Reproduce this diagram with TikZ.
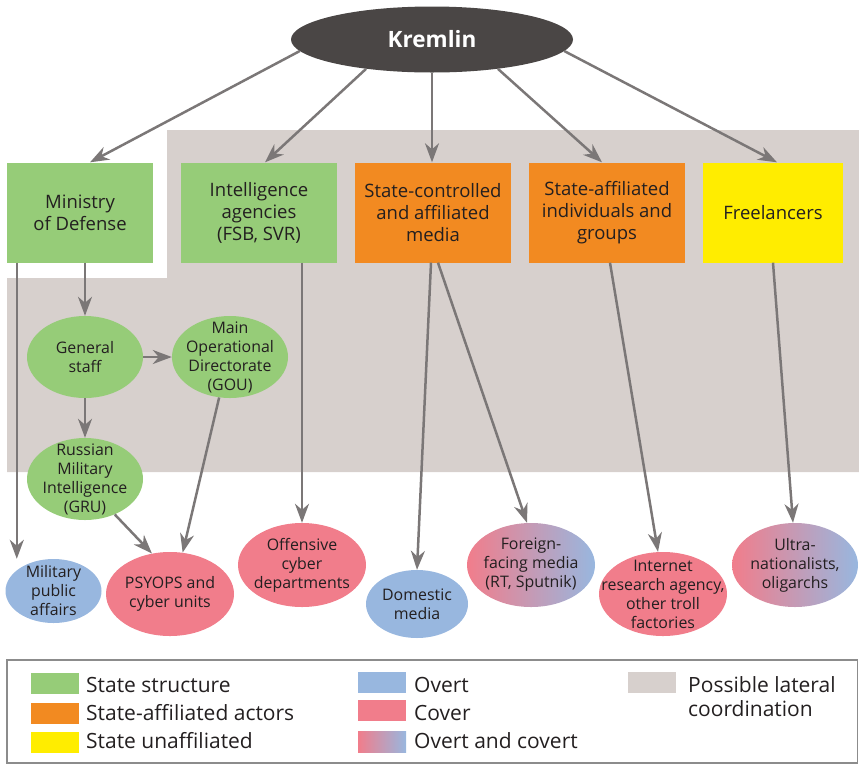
\documentclass[tikz,border=0pt]{standalone}
\usepackage{fontspec}
\setmainfont{Open Sans}
\usetikzlibrary{shapes.geometric,arrows.meta}
\definecolor{stategreen}{HTML}{96CC78}
\definecolor{affilorange}{HTML}{F28A21}
\definecolor{freeyellow}{HTML}{FFED00}
\definecolor{lateralgray}{HTML}{D7D0CD}
\definecolor{overtblue}{HTML}{98B7DF}
\definecolor{coverpink}{HTML}{F17D8B}
\definecolor{arrowgray}{HTML}{7B7777}
\definecolor{kremlingray}{HTML}{4A4645}
\definecolor{inkc}{HTML}{231F20}
\tikzset{
  actor/.style={rectangle, minimum height=100pt, inner sep=0pt, align=center,
    text=inkc, font=\fontsize{18.5}{22}\selectfont},
  unit/.style={ellipse, inner sep=0pt, minimum width=116pt, minimum height=82pt},
  unittext/.style={align=center, text=inkc, inner sep=0pt,
    font=\fontsize{15.9}{19}\selectfont},
  link/.style={draw=arrowgray, line width=2.5pt,
    -{Stealth[length=19pt,width=14pt,inset=6pt]}},
  swatch/.style={rectangle, minimum width=48pt, minimum height=21pt, inner sep=0pt},
  legtext/.style={anchor=base west, inner sep=0pt, text=inkc, align=left,
    font=\fontsize{21}{24}\selectfont}
}
\begin{document}
\begin{tikzpicture}[x=1pt,y=-1pt]
\useasboundingbox (0,0) rectangle (859,764);
%%%%%%%%%%%%%%%% lateral coordination area
\fill[lateralgray] (167,130) -- (859,130) -- (859,472) -- (7,472) -- (7,278) -- (167,278) -- cycle;
%%%%%%%%%%%%%%%%
\node[ellipse, fill=kremlingray, minimum width=282pt, minimum height=66pt, inner sep=0pt,
  text=white, font=\fontsize{22.5}{26}\selectfont\bfseries] (kremlin) at (432,39.5) {Kremlin};
%%%%%%%%%%%%%%%%
\node[actor, fill=stategreen, minimum width=146pt] (mod) at (80,212.5) {Ministry\\of Defense};
\node[actor, fill=stategreen, minimum width=156pt] (intel) at (259,212.5) {Intelligence\\agencies\\(FSB, SVR)};
\node[actor, fill=affilorange, minimum width=156pt] (media) at (433,212.5) {State-controlled\\and affiliated\\media};
\node[actor, fill=affilorange, minimum width=156pt] (groups) at (607,212.5) {State-affiliated\\individuals and\\groups};
\node[actor, fill=freeyellow, minimum width=140pt] (free) at (773,212.5) {Freelancers};
%%%%%%%%%%%%%%%%
\node[unit, fill=stategreen, label={[unittext]center:General\\staff}] (gs) at (85,357) {};
\node[unit, fill=stategreen, label={[unittext]center:Main\\Operational\\Directorate\\(GOU)}] (gou) at (230,357) {};
\node[unit, fill=stategreen, label={[unittext]center:Russian\\Military\\Intelligence\\(GRU)}] (gru) at (85,479) {};
%%%%%%%%%%%%%%%%
\node[unit, fill=overtblue, minimum width=96pt, minimum height=64pt,
  label={[unittext]center:Military\\public\\affairs}] (mpa) at (53.5,591) {};
\node[unit, fill=coverpink, minimum width=128pt, minimum height=84pt,
  label={[unittext]center:PSYOPS and\\cyber units}] (psyops) at (170,594) {};
\node[unit, fill=coverpink, minimum width=128pt, minimum height=84pt,
  label={[unittext]center:Offensive\\cyber\\departments}] (cyber) at (302,565) {};
\node[unit, fill=overtblue, minimum width=102pt, minimum height=68pt,
  label={[unittext]center:Domestic\\media}] (domestic) at (417,604) {};
\node[unit, left color=coverpink, right color=overtblue, minimum width=128pt, minimum height=84pt,
  label={[unittext]center:{Foreign-\\facing media\\(RT, Sputnik)}}] (foreign) at (531,565) {};
\node[unit, fill=coverpink, minimum width=128pt, minimum height=84pt,
  label={[unittext]center:{Internet\\research agency,\\other troll\\factories}}] (troll) at (663,594) {};
\node[unit, left color=coverpink, right color=overtblue, minimum width=126pt, minimum height=84pt,
  label={[unittext]center:{Ultra-\\nationalists,\\oligarchs}}] (ultra) at (795,565) {};
%%%%%%%%%%%%%%%% from the Kremlin
\draw[link] (kremlin.185) -- ([xshift=10pt]mod.north);
\draw[link] (kremlin.204) -- ([xshift=6pt]intel.north);
\draw[link] (kremlin.south) -- (kremlin.south |- media.north);
\draw[link] (kremlin.336) -- ([xshift=-5pt]groups.north);
\draw[link] (kremlin.355) -- ([xshift=4pt]free.north);
%%%%%%%%%%%%%%%% ministry of defense
\draw[link] ([xshift=10pt]mod.south west) -- ([xshift=10pt]mod.south west |- mpa.north);
\draw[link] (gs.north |- mod.south) -- (gs.north);
\draw[link] (gs.east) -- (gou.west);
\draw[link] (gs.south) -- (gru.north);
\draw[link] (gru.310) -- (psyops.114);
\draw[link] (gou.255) -- (psyops.73);
%%%%%%%%%%%%%%%%
\draw[link] (cyber.north |- intel.south) -- (cyber.north);
\draw[link] ([xshift=-2pt]media.south) -- (domestic.north);
\draw[link] ([xshift=5pt]media.south) -- ([xshift=-4pt]foreign.north);
\draw[link] ([xshift=3pt]groups.south) -- ([xshift=-5pt]troll.north);
\draw[link] (free.south) -- ([xshift=-2pt]ultra.north);
%%%%%%%%%%%%%%%% legend
\draw[draw=black!45, line width=1.2pt] (7,660) rectangle (857.5,763);
\node[swatch, fill=stategreen] (lg1) at (54.5,683.5) {};
\node[swatch, fill=affilorange] (lg2) at (54.5,713.5) {};
\node[swatch, fill=freeyellow] (lg3) at (54.5,742.5) {};
\node[swatch, fill=overtblue] (lg4) at (382,682.5) {};
\node[swatch, fill=coverpink] (lg5) at (382,710.5) {};
\node[swatch, left color=coverpink, right color=overtblue] (lg6) at (382,742) {};
\node[swatch, fill=lateralgray] (lg7) at (652,682.5) {};
\node[legtext] (lt1) at (86,692) {State structure};
\node[legtext] (lt2) at (86,720) {State-affiliated actors};
\node[legtext] (lt3) at (86,748) {State unaffiliated};
\node[legtext] (lt4) at (414,692) {Overt};
\node[legtext] (lt5) at (414,720) {Cover};
\node[legtext] (lt6) at (414,748) {Overt and covert};
\node[legtext] (lt7) at (688,716) {Possible lateral\\coordination};
\end{tikzpicture}
\end{document}
